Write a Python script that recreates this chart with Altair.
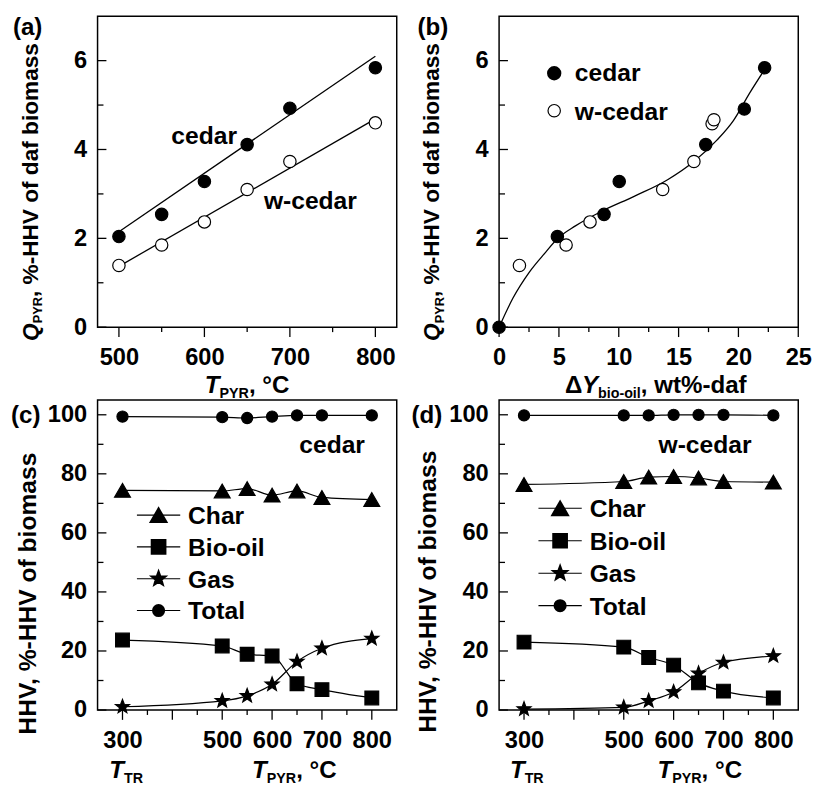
import math
import altair as alt
import pandas as pd

FONT = "Liberation Sans"
W = 304
H1 = 316
H2 = 315

# ---------------- data ----------------
# (a) Q_PYR vs T_PYR
a_temp = [500, 550, 600, 650, 700, 800]
a_cedar = [2.04, 2.54, 3.28, 4.11, 4.93, 5.84]
a_wcedar = [1.39, 1.85, 2.37, 3.10, 3.73, 4.60]
a_fit_temp = [500, 800]
a_fit_cedar = [2.15, 6.10]
a_fit_wcedar = [1.37, 4.69]

# (b) Q_PYR vs delta Y bio-oil
b_cedar_dy = [0.0, 4.87, 8.77, 10.04, 17.27, 20.49, 22.19]
b_cedar_q = [0.0, 2.04, 2.54, 3.28, 4.11, 4.91, 5.84]
b_wcedar_dy = [1.7, 5.6, 7.6, 13.67, 16.28, 17.8, 17.95]
b_wcedar_q = [1.39, 1.85, 2.37, 3.10, 3.73, 4.58, 4.67]
b_curve_dy = [0.0, 1.15, 2.53, 3.9, 4.87, 6.38, 8.58, 11.33, 14.08, 16.28, 18.2, 19.58, 20.96, 22.19]
b_curve_q = [0.0, 0.65, 1.24, 1.69, 1.99, 2.28, 2.61, 2.95, 3.32, 3.73, 4.21, 4.65, 5.28, 5.80]

# (c) cedar, (d) w-cedar : HHV distribution
temps = [300, 500, 550, 600, 650, 700, 800]
c_char = [74.4, 74.2, 75.0, 72.8, 74.2, 72.0, 71.3]
c_oil = [23.7, 21.7, 18.9, 18.3, 8.9, 6.9, 4.1]
c_gas = [1.1, 3.1, 4.8, 8.7, 16.4, 20.9, 24.2]
c_total = [99.4, 99.2, 98.9, 99.4, 99.8, 99.8, 99.8]
d_char = [76.4, 77.4, 78.9, 79.1, 78.6, 77.4, 77.2]
d_oil = [23.0, 21.3, 17.8, 15.2, 9.2, 6.4, 4.1]
d_gas = [0.3, 0.9, 3.1, 6.1, 12.4, 16.1, 18.3]
d_total = [99.8, 99.8, 99.8, 100.0, 100.0, 100.0, 99.8]
series_names = ["Char", "Bio-oil", "Gas", "Total"]

# axis tick values
a_xmajor = [500, 600, 700, 800]
a_xminor = [550, 650, 750]
q_ymajor = [0, 2, 4, 6]
q_yminor = [1, 3, 5]
b_xmajor = [0, 5, 10, 15, 20, 25]
b_xminor = [2.5, 7.5, 12.5, 17.5, 22.5]
cd_xmajor = [300, 400, 500, 600, 700, 800]
cd_xminor = [350, 450, 550, 650, 750]
cd_xlabels = [300, 500, 600, 700, 800]
cd_ymajor = [0, 20, 40, 60, 80, 100]
cd_yminor = [10, 30, 50, 70, 90]

# ---------------- helpers ----------------
WIDTHS = {' ': 278, ',': 278, '%': 889, '-': 333, '°': 400, '(': 333, ')': 333, 'Δ': 700,
          'B': 722, 'C': 722, 'H': 722, 'P': 667, 'Q': 778, 'R': 722, 'T': 611, 'V': 667, 'Y': 667,
          'a': 556, 'b': 611, 'c': 556, 'd': 611, 'e': 556, 'f': 333, 'i': 278, 'l': 278,
          'm': 889, 'o': 611, 'r': 389, 's': 556, 't': 333, 'w': 778}


def tw(s, size):
    return sum(WIDTHS.get(ch, 556) for ch in s) * size / 1000.0


def txt(s, x, y, size, italic=False, angle=0, align="left", baseline="alphabetic"):
    kw = dict(font=FONT, fontSize=size, fontWeight="bold", color="black",
              align=align, baseline=baseline)
    if italic:
        kw["fontStyle"] = "italic"
    if angle:
        kw["angle"] = angle
    return alt.Chart(pd.DataFrame({"t": [s]})).mark_text(**kw).encode(
        text="t:N", x=alt.value(x), y=alt.value(y))


def rich(pieces, x, y, vertical=False, sub=5):
    out = []
    pos = y if vertical else x
    for s, size, italic, is_sub in pieces:
        if vertical:
            out.append(txt(s, x + (sub if is_sub else 0), pos, size, italic, angle=270))
            pos -= tw(s, size)
        else:
            out.append(txt(s, pos, y + (sub if is_sub else 0), size, italic))
            pos += tw(s, size)
    return out


def enc_x(dom, values):
    return alt.X("x:Q", scale=alt.Scale(domain=dom, nice=False, zero=False),
                 axis=alt.Axis(values=values, title=None, labelFlush=False, labelOverlap=False,
                               labelPadding=19))


def enc_y(dom, values):
    return alt.Y("y:Q", scale=alt.Scale(domain=dom, nice=False, zero=False),
                 axis=alt.Axis(values=values, title=None, labelFlush=False, labelOverlap=False,
                               labelPadding=11))


def xticks(X, vals, length, H):
    return alt.Chart(pd.DataFrame({"x": vals})).mark_rule(color="black", strokeWidth=1.3).encode(
        x=X, y=alt.value(H), y2=alt.value(H + length))


def yticks(Y, vals, length):
    return alt.Chart(pd.DataFrame({"y": vals})).mark_rule(color="black", strokeWidth=1.3).encode(
        y=Y, x=alt.value(0), x2=alt.value(length))


def points(X, Y, xs, ys, shape, size, filled=True):
    return alt.Chart(pd.DataFrame({"x": xs, "y": ys})).mark_point(
        shape=shape, size=size, filled=True, fill="black" if filled else "white",
        stroke="black", strokeWidth=1.2, opacity=1).encode(x=X, y=Y)


def line(X, Y, xs, ys, interp="linear", width=1.3):
    return alt.Chart(pd.DataFrame({"x": xs, "y": ys})).mark_line(
        color="black", strokeWidth=width, interpolate=interp).encode(x=X, y=Y)


def star_path(inner=0.42):
    pts = []
    for k in range(10):
        r = 1.0 if k % 2 == 0 else inner
        ang = math.radians(-90 + 36 * k)
        pts.append(f"{r * math.cos(ang):.3f},{r * math.sin(ang):.3f}")
    return "M" + "L".join(pts) + "Z"


STAR = star_path()
SHAPES = {"Char": ("triangle-up", 260), "Bio-oil": ("square", 195),
          "Gas": (STAR, 225), "Total": ("circle", 128)}

TICK = 24
BIG = 25
LAB = 24.5
XT = 24.5
SUB = 14.5

# ---------------- panel (a) ----------------
Xa = enc_x([475, 825], a_xmajor)
Ya = enc_y([0, 7], q_ymajor)
ytitle_q = [("Q", 23, True, False), ("PYR", 13, False, True), (", %-HHV of daf biomass", 23, False, False)]
panel_a = alt.layer(
    xticks(Xa, a_xmajor, 10, H1), xticks(Xa, a_xminor, 5, H1),
    yticks(Ya, q_ymajor, 9), yticks(Ya, q_yminor, 6),
    line(Xa, Ya, a_fit_temp, a_fit_cedar),
    line(Xa, Ya, a_fit_temp, a_fit_wcedar),
    points(Xa, Ya, a_temp, a_cedar, "circle", 158, True),
    points(Xa, Ya, a_temp, a_wcedar, "circle", 158, False),
    txt("cedar", 75, 130, BIG),
    txt("w-cedar", 169, 196, BIG),
    txt("(a)", -86, 19, LAB),
    *rich([("T", XT, True, False), ("PYR", SUB, False, True), (", °C", XT, False, False)], 109, 383),
    *rich(ytitle_q, -61, 330, vertical=True),
).properties(width=W, height=H1)

# ---------------- panel (b) ----------------
Xb = enc_x([0, 25], b_xmajor)
Yb = enc_y([0, 7], q_ymajor)
panel_b = alt.layer(
    xticks(Xb, b_xmajor, 10, H1), xticks(Xb, b_xminor, 5, H1),
    yticks(Yb, q_ymajor, 9), yticks(Yb, q_yminor, 6),
    line(Xb, Yb, b_curve_dy, b_curve_q, "monotone"),
    points(Xb, Yb, b_wcedar_dy, b_wcedar_q, "circle", 158, False),
    points(Xb, Yb, b_cedar_dy, b_cedar_q, "circle", 158, True),
    alt.Chart(pd.DataFrame({"t": ["cedar"]})).mark_point(
        shape="circle", size=158, filled=True, fill="black", stroke="black", opacity=1).encode(
        x=alt.value(56), y=alt.value(58)),
    alt.Chart(pd.DataFrame({"t": ["w-cedar"]})).mark_point(
        shape="circle", size=158, filled=True, fill="white", stroke="black", strokeWidth=1.2,
        opacity=1).encode(x=alt.value(56), y=alt.value(96)),
    txt("cedar", 77, 66, BIG),
    txt("w-cedar", 77, 105, BIG),
    txt("(b)", -83, 19, LAB),
    *rich([("Δ", XT, False, False), ("Y", XT, True, False), ("bio-oil", SUB, False, True),
           (", wt%-daf", XT, False, False)], 67, 383),
    *rich(ytitle_q, -61, 330, vertical=True),
).properties(width=W, height=H1)


# ---------------- panels (c), (d) ----------------
def hhv_panel(char, oil, gas, total, label, name, name_x, leg_y0, leg_step, tr_x, pyr_x, yt_x, yt_y, lab_x):
    X = enc_x([250, 850], cd_xlabels)
    Y = enc_y([0, 105], cd_ymajor)
    layers = [xticks(X, cd_xmajor, 10, H2), xticks(X, cd_xminor, 5, H2),
              yticks(Y, cd_ymajor, 9), yticks(Y, cd_yminor, 6)]
    vals = {"Char": char, "Bio-oil": oil, "Gas": gas, "Total": total}
    for nm in series_names:
        layers.append(line(X, Y, temps, vals[nm], "monotone", 1.2))
    for nm in series_names:
        shp, sz = SHAPES[nm]
        layers.append(points(X, Y, temps, vals[nm], shp, sz, True))
    # legend
    for i, nm in enumerate(series_names):
        yy = leg_y0 + leg_step * i
        shp, sz = SHAPES[nm]
        df1 = pd.DataFrame({"t": [nm]})
        layers.append(alt.Chart(df1).mark_rule(color="black", strokeWidth=1.2).encode(
            x=alt.value(40), x2=alt.value(84), y=alt.value(yy)))
        layers.append(alt.Chart(df1).mark_point(
            shape=shp, size=sz, filled=True, fill="black", stroke="black", opacity=1).encode(
            x=alt.value(62), y=alt.value(yy)))
        layers.append(txt(nm, 92, yy + 9, BIG))
    layers.append(txt(name, name_x, 54, BIG))
    layers.append(txt(label, lab_x, 23, LAB))
    layers += rich([("T", XT, True, False), ("TR", SUB, False, True)], tr_x, 384)
    layers += rich([("T", XT, True, False), ("PYR", SUB, False, True), (", °C", XT, False, False)], pyr_x, 384)
    layers.append(txt("HHV, %-HHV of biomass", yt_x, yt_y, 25, angle=270))
    return alt.layer(*layers).properties(width=W, height=H2)


panel_c = hhv_panel(c_char, c_oil, c_gas, c_total, "(c)", "cedar", 205, 117, 32.3, 12, 157, -63, 340, -88)
panel_d = hhv_panel(d_char, d_oil, d_gas, d_total, "(d)", "w-cedar", 162, 110, 33.0, 11, 161, -64, 338, -89)

chart = alt.concat(
    panel_a, panel_b, panel_c, panel_d, columns=2,
    spacing={"row": 74, "column": 104}, bounds="flush"
).properties(
    padding={"left": 2, "top": 0, "right": 2, "bottom": 2},
    background="white"
).configure_view(
    stroke="black", strokeWidth=1.5
).configure_axis(
    labelFont=FONT, labelFontSize=TICK, labelFontWeight="bold", labelColor="black",
    ticks=False, tickSize=0, domain=False, grid=False
)

chart.save("out.html", embed_options={"renderer": "svg", "actions": False})
